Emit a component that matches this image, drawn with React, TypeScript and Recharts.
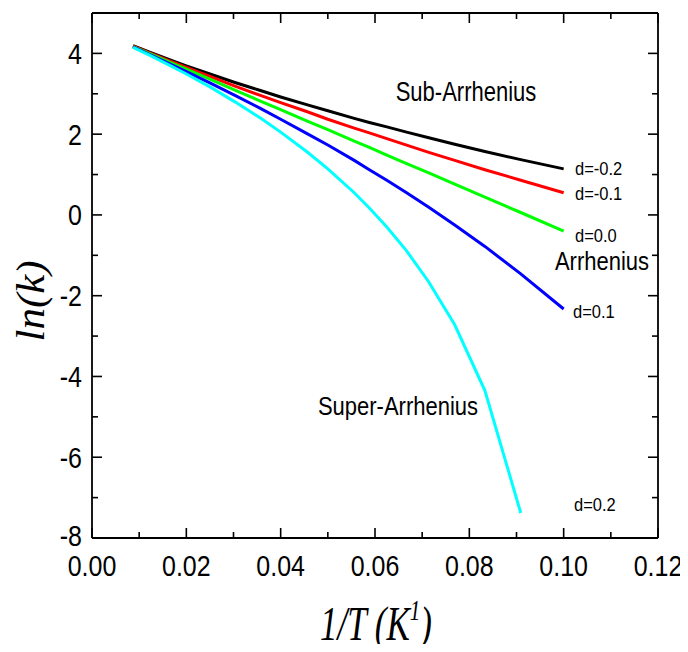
import React from 'react';
import { LineChart, Line, XAxis, YAxis } from 'recharts';

// 1/T values (K^-1)
const X_VALUES = [0.0087, 0.0125, 0.0167, 0.02, 0.025, 0.0303, 0.0357, 0.04, 0.0455, 0.05, 0.0556, 0.0588, 0.0625, 0.0667, 0.0714, 0.0769, 0.0833, 0.0909, 0.1];
// ln(k) for each d
const D_NEG02 = [4.19, 4.02, 3.83, 3.69, 3.49, 3.28, 3.08, 2.92, 2.73, 2.58, 2.39, 2.29, 2.18, 2.05, 1.91, 1.75, 1.57, 1.37, 1.14];
const D_NEG01 = [4.18, 4.0, 3.8, 3.65, 3.43, 3.19, 2.96, 2.78, 2.56, 2.37, 2.15, 2.03, 1.89, 1.73, 1.55, 1.35, 1.12, 0.86, 0.55];
const D_0 = [4.17, 3.98, 3.77, 3.61, 3.36, 3.09, 2.82, 2.61, 2.33, 2.11, 1.83, 1.67, 1.48, 1.27, 1.04, 0.76, 0.44, 0.06, -0.4];
const D_01 = [4.16, 3.96, 3.73, 3.55, 3.27, 2.96, 2.64, 2.37, 2.02, 1.73, 1.35, 1.12, 0.86, 0.55, 0.19, -0.25, -0.78, -1.46, -2.33];
const D_02 = [4.15, 3.94, 3.69, 3.49, 3.17, 2.8, 2.4, 2.05, 1.57, 1.14, 0.55, 0.17, -0.3, -0.89, -1.66, -2.72, -4.35, -7.38, null];

const X_TICKS = [0, 0.01, 0.02, 0.03, 0.04, 0.05, 0.06, 0.07, 0.08, 0.09, 0.1, 0.11, 0.12];
const Y_TICKS = [-8, -7, -6, -5, -4, -3, -2, -1, 0, 1, 2, 3, 4];

const SERIES = [
  { key: 'm02', color: '#000000', values: D_NEG02 },
  { key: 'm01', color: '#ff0000', values: D_NEG01 },
  { key: 'z0', color: '#00ff00', values: D_0 },
  { key: 'p01', color: '#0000ff', values: D_01 },
  { key: 'p02', color: '#00ffff', values: D_02 },
];

const data = X_VALUES.map((x, i) => {
  const row: any = { x };
  SERIES.forEach((s) => {
    row[s.key] = s.values[i];
  });
  return row;
});

const SANS = '"Liberation Sans", Arial, Helvetica, sans-serif';
const SERIF = '"Liberation Serif", "Times New Roman", Times, serif';
const TICK_W = 1.6;

const isXMajor = (v: number) => Math.round(v * 100) % 2 === 0;
const isYMajor = (v: number) => Math.round(v) % 2 === 0;

const BottomTick = (props: any) => {
  const { x, y, payload } = props;
  const v = payload.value;
  const major = isXMajor(v);
  return (
    <g>
      <line x1={x} x2={x} y1={y} y2={y - (major ? 10 : 6)} stroke="#000" strokeWidth={TICK_W} />
      {major && (
        <text
          transform={`translate(${x},${y + 38}) scale(1,1.17)`}
          textAnchor="middle"
          fontSize={25}
          fontFamily={SANS}
          fill="#000"
        >
          {v.toFixed(2)}
        </text>
      )}
    </g>
  );
};

const TopTick = (props: any) => {
  const { x, y, payload } = props;
  const major = isXMajor(payload.value);
  return <line x1={x} x2={x} y1={y} y2={y + (major ? 10 : 6)} stroke="#000" strokeWidth={TICK_W} />;
};

const LeftTick = (props: any) => {
  const { x, y, payload } = props;
  const v = payload.value;
  const major = isYMajor(v);
  return (
    <g>
      <line x1={x} x2={x + (major ? 10 : 6)} y1={y} y2={y} stroke="#000" strokeWidth={TICK_W} />
      {major && (
        <text
          transform={`translate(${x - 10},${y}) scale(1,1.17)`}
          y={v === -8 ? 7 : 9}
          textAnchor="end"
          fontSize={25}
          fontFamily={SANS}
          fill="#000"
        >
          {String(v)}
        </text>
      )}
    </g>
  );
};

const RightTick = (props: any) => {
  const { x, y, payload } = props;
  const major = isYMajor(payload.value);
  return <line x1={x} x2={x - (major ? 10 : 6)} y1={y} y2={y} stroke="#000" strokeWidth={TICK_W} />;
};

const OFF = 8;

const Note = ({ text, cx, cy, left, size, scale = 1.2 }: any) => {
  const style: React.CSSProperties = {
    position: 'absolute',
    top: cy - OFF,
    fontFamily: SANS,
    fontSize: size,
    lineHeight: 1,
    whiteSpace: 'nowrap',
    color: '#000',
  };
  if (left !== undefined) {
    style.left = left - OFF;
    style.transform = `translate(0,-50%) scale(1,${scale})`;
    style.transformOrigin = 'left center';
  } else {
    style.left = cx - OFF;
    style.transform = `translate(-50%,-50%) scale(1,${scale})`;
  }
  return <div style={style}>{text}</div>;
};

export default function App() {
  const axisLine = { stroke: '#000', strokeWidth: 1.8 };
  return (
    <div style={{ position: 'relative', width: 680, height: 636, background: '#fff' }}>
      <LineChart width={680} height={636} data={data} margin={{ top: 0, right: 0, bottom: 0, left: 0 }}>
        <XAxis
          xAxisId="bottom"
          dataKey="x"
          type="number"
          domain={[0, 0.12]}
          ticks={X_TICKS}
          interval={0}
          allowDataOverflow
          height={106}
          tickSize={0}
          tickMargin={0}
          tickLine={false}
          axisLine={axisLine}
          tick={<BottomTick />}
        />
        <XAxis
          xAxisId="top"
          orientation="top"
          dataKey="x"
          type="number"
          domain={[0, 0.12]}
          ticks={X_TICKS}
          interval={0}
          allowDataOverflow
          height={5}
          tickSize={0}
          tickMargin={0}
          tickLine={false}
          axisLine={axisLine}
          tick={<TopTick />}
        />
        <YAxis
          yAxisId="left"
          type="number"
          domain={[-8, 5]}
          ticks={Y_TICKS}
          interval={0}
          allowDataOverflow
          width={84}
          tickSize={0}
          tickMargin={0}
          tickLine={false}
          axisLine={axisLine}
          tick={<LeftTick />}
        />
        <YAxis
          yAxisId="right"
          orientation="right"
          type="number"
          domain={[-8, 5]}
          ticks={Y_TICKS}
          interval={0}
          allowDataOverflow
          width={30}
          tickSize={0}
          tickMargin={0}
          tickLine={false}
          axisLine={axisLine}
          tick={<RightTick />}
        />
        <Line
          xAxisId="top"
          yAxisId="right"
          dataKey="z0"
          stroke="transparent"
          strokeWidth={0}
          dot={false}
          activeDot={false}
          legendType="none"
          isAnimationActive={false}
        />
        {SERIES.map((s) => (
          <Line
            key={s.key}
            xAxisId="bottom"
            yAxisId="left"
            type="linear"
            dataKey={s.key}
            stroke={s.color}
            strokeWidth={3}
            dot={false}
            activeDot={false}
            isAnimationActive={false}
          />
        ))}
      </LineChart>

      <Note text="Sub-Arrhenius" cx={466} cy={92} size={22} scale={1.25} />
      <Note text="Arrhenius" cx={602} cy={262} size={22} scale={1.2} />
      <Note text="Super-Arrhenius" cx={398} cy={407} size={22} scale={1.2} />
      <Note text="d=-0.2" left={575} cy={169} size={16.5} scale={1.12} />
      <Note text="d=-0.1" left={575} cy={194} size={16.5} scale={1.12} />
      <Note text="d=0.0" left={575} cy={236} size={16.5} scale={1.12} />
      <Note text="d=0.1" left={573} cy={312} size={16.5} scale={1.12} />
      <Note text="d=0.2" left={574} cy={505} size={16.5} scale={1.12} />

      <div
        style={{
          position: 'absolute',
          left: 30 - OFF,
          top: 301 - OFF,
          transform: 'translate(-50%,-50%) rotate(-90deg) scale(1.1,1)',
          fontFamily: SERIF,
          fontStyle: 'italic',
          fontSize: 39,
          lineHeight: 1,
          whiteSpace: 'nowrap',
          color: '#000',
        }}
      >
        ln(k)
      </div>
      <div
        style={{
          position: 'absolute',
          left: 376 - OFF,
          top: 624 - OFF,
          transform: 'translate(-50%,-50%) scale(1,1.38)',
          fontFamily: SERIF,
          fontStyle: 'italic',
          fontSize: 35,
          lineHeight: 1,
          whiteSpace: 'nowrap',
          color: '#000',
        }}
      >
        1/T (K<sup style={{ fontSize: '0.6em', verticalAlign: '0.7em', lineHeight: 0 }}>1</sup>)
      </div>
    </div>
  );
}
